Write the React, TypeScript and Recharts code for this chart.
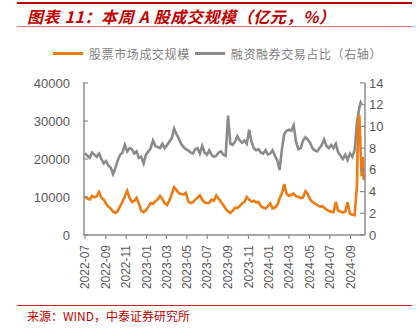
import { LineChart, Line, XAxis, YAxis } from "recharts";

// month labels on the x axis (every two months)
const monthLabels = [
  "2022-07", "2022-09", "2022-11", "2023-01", "2023-03", "2023-05", "2023-07",
  "2023-09", "2023-11", "2024-01", "2024-03", "2024-05", "2024-07", "2024-09",
];

// weekly readings, week 0 = 2022-07-01
const turnoverWeekly = [
  10100, 9600, 9300, 10300, 9900, 10200, 11300, 9800, 9300, 8200,
  7400, 7000, 6100, 5800, 6400, 7600, 8800, 10200, 11600, 9800,
  8700, 9000, 9800, 8200, 6400, 6000, 6500, 7400, 8400, 8200,
  8900, 9400, 10300, 9500, 8400, 7900, 9100, 10800, 12600, 11800,
  11000, 10800, 10700, 11100, 8900, 8400, 8600, 9300, 9800, 10400,
  9300, 8600, 8400, 8500, 9300, 9000, 10400, 9600, 8700, 7900,
  6900, 6200, 5800, 6400, 7200, 7100, 7600, 8300, 8700, 10000,
  9300, 8800, 9000, 8600, 8700, 7600, 7200, 7000, 7600, 8300,
  7000, 7200, 7900, 9600, 11000, 13400, 10800, 10300, 10600, 10900,
  10200, 10100, 9700, 9900, 11500, 10800, 9400, 8700, 8300, 7900,
  7500, 7600, 7200, 6700, 6300, 6100, 6000, 8700, 6400, 6200,
  5900, 6100, 8600, 5600, 5300, 5200, 13000,
];

const marginShareWeekly = [
  7.55, 7.3, 7.1, 7.6, 7.4, 7.2, 7.5, 7.0, 6.6, 6.8,
  6.4, 6.2, 5.6, 6.2, 6.9, 7.4, 7.6, 8.3, 7.7, 8.0,
  7.9, 7.5, 7.7, 7.1, 7.2, 6.6, 7.4, 7.7, 8.0, 8.7,
  8.2, 8.1, 8.0, 8.4, 8.0, 8.3, 8.6, 8.9, 9.8, 9.3,
  8.9, 8.4, 8.1, 7.9, 7.8, 7.6, 7.5, 7.9, 8.0, 7.5,
  8.2, 7.6, 7.4, 7.8, 7.4, 7.2, 7.3, 7.6, 7.7, 7.4,
  7.3, 11.0, 8.4, 8.3, 8.6, 9.1, 8.7, 8.5, 8.7, 8.4,
  9.7, 8.6, 8.0, 7.8, 7.9, 7.6, 7.5, 7.8, 7.4, 7.5,
  7.8, 7.3, 6.9, 6.0, 7.9, 9.3, 9.6, 9.7, 9.6, 10.1,
  8.6, 7.9, 8.0, 8.7, 9.0, 8.8, 8.5, 8.0, 7.8, 7.7,
  8.0, 8.3, 8.8, 8.2, 8.0, 8.3, 8.0, 8.4, 7.6, 7.3,
  7.0, 7.4, 6.9, 7.5, 7.2, 7.8, 10.4,
];

// daily readings for the late-September / October spike (days since 2022-07-01)
const tailDays = [815, 817, 819, 821, 823, 826, 829, 832, 835];
const tailTurnover = [28000, 31000, 31500, 27000, 22000, 15500, 20500, 14500, 16000];
const tailMarginShare = [10.9, 11.3, 11.7, 12.0, 12.2, 12.0, null, null, null];

const leftTicks = [0, 10000, 20000, 30000, 40000];
const rightTicks = [0, 2, 4, 6, 8, 10, 12, 14];

const ORANGE = "#EE7A12";
const GREY = "#8A8A8A";
const RED = "#C00000";
const AXIS = "#8C8C8C";
const LABEL = "#595959";
const NUM_FONT = '"Liberation Sans", Arial, sans-serif';
const CJK_FONT = '"Noto Sans CJK SC", "Noto Sans", sans-serif';

const DAY = 86400000;
const start = Date.UTC(2022, 6, 1);
const monthDay = (label: string) => {
  const [y, m] = label.split("-").map(Number);
  return Math.round((Date.UTC(y, m - 1, 1) - start) / DAY);
};

const data = [
  ...turnoverWeekly.map((v, i) => ({ day: i * 7, turnover: v, margin: marginShareWeekly[i] })),
  ...tailDays.map((d, i) => ({ day: d, turnover: tailTurnover[i], margin: tailMarginShare[i] })),
];
const xTicks = monthLabels.map(monthDay);
const labelByDay: Record<number, string> = {};
monthLabels.forEach((l) => (labelByDay[monthDay(l)] = l));

const LeftTick = (p: any) => (
  <g>
    <line x1={p.x + 13} x2={p.x + 18} y1={p.y} y2={p.y} stroke={AXIS} strokeWidth={1.2} />
    <text x={p.x} y={p.y} dy="0.35em" textAnchor="end" fill={LABEL} fontSize={13} fontFamily={NUM_FONT}>
      {p.payload.value}
    </text>
  </g>
);

const RightTick = (p: any) => (
  <g>
    <line x1={p.x - 4} x2={p.x - 9} y1={p.y} y2={p.y} stroke={AXIS} strokeWidth={1.2} />
    <text x={p.x} y={p.y} dy="0.35em" textAnchor="start" fill={LABEL} fontSize={13} fontFamily={NUM_FONT}>
      {p.payload.value}
    </text>
  </g>
);

const DateTick = (p: any) => (
  <text
    x={p.x}
    y={p.y}
    dy="0.35em"
    textAnchor="end"
    transform={`rotate(-90, ${p.x}, ${p.y})`}
    fill={LABEL}
    fontSize={12}
    fontFamily={NUM_FONT}
  >
    {labelByDay[p.payload.value]}
  </text>
);

const legendItems = [
  { name: "股票市场成交规模", color: ORANGE },
  { name: "融资融券交易占比（右轴）", color: GREY },
];

export default function App() {
  return (
    <div style={{ position: "absolute", left: 0, top: 0, width: 420, height: 332, background: "#fff" }}>
      <div style={{ position: "absolute", left: 17, top: 2, width: 395, height: 2, background: RED }} />
      <div
        style={{
          position: "absolute",
          left: 27,
          top: 4,
          fontFamily: CJK_FONT,
          fontWeight: 700,
          fontStyle: "italic",
          fontSize: 16,
          letterSpacing: 0.6,
          color: RED,
          whiteSpace: "nowrap",
        }}
      >
        图表 11：本周 A 股成交规模（亿元，%）
      </div>
      <div style={{ position: "absolute", left: 17, top: 26, width: 395, height: 1, background: "#E07070" }} />

      <div
        style={{
          position: "absolute",
          left: 53,
          top: 45,
          display: "flex",
          alignItems: "center",
          fontFamily: CJK_FONT,
          whiteSpace: "nowrap",
        }}
      >
        {legendItems.map((it) => (
          <div key={it.name} style={{ display: "flex", alignItems: "center", marginRight: 5 }}>
            <span style={{ display: "inline-block", width: 30, height: 2.5, background: it.color }} />
            <span style={{ marginLeft: 6, fontSize: 12, letterSpacing: 0.6, color: "#7F7F7F" }}>{it.name}</span>
          </div>
        ))}
      </div>

      <div style={{ position: "absolute", left: 0, top: 0 }}>
        <LineChart width={420} height={332} data={data} margin={{ top: 83, right: 0, bottom: 37, left: 0 }}>
          <XAxis
            dataKey="day"
            type="number"
            domain={[-3, 836]}
            ticks={xTicks}
            interval={0}
            height={60}
            tick={<DateTick />}
            tickSize={4}
            tickMargin={6}
            axisLine={{ stroke: AXIS, strokeWidth: 1.5 }}
            tickLine={{ stroke: AXIS, strokeWidth: 1.2 }}
          />
          <YAxis
            yAxisId="left"
            orientation="left"
            width={84}
            domain={[0, 40000]}
            ticks={leftTicks}
            interval={0}
            tickSize={0}
            tickMargin={14}
            tickLine={false}
            tick={<LeftTick />}
            axisLine={{ stroke: AXIS, strokeWidth: 1.5 }}
          />
          <YAxis
            yAxisId="right"
            orientation="right"
            width={55}
            domain={[0, 14]}
            ticks={rightTicks}
            interval={0}
            tickSize={0}
            tickMargin={4}
            tickLine={false}
            tick={<RightTick />}
            axisLine={{ stroke: AXIS, strokeWidth: 1.5 }}
          />
          <Line
            yAxisId="right"
            dataKey="margin"
            stroke={GREY}
            strokeWidth={2.6}
            dot={false}
            isAnimationActive={false}
          />
          <Line
            yAxisId="left"
            dataKey="turnover"
            stroke={ORANGE}
            strokeWidth={2.6}
            dot={false}
            isAnimationActive={false}
          />
        </LineChart>
      </div>

      <div style={{ position: "absolute", left: 17, top: 305, width: 395, height: 1, background: "#D02020" }} />
      <div
        style={{
          position: "absolute",
          left: 27,
          top: 307,
          fontFamily: CJK_FONT,
          fontSize: 12,
          color: RED,
          whiteSpace: "nowrap",
        }}
      >
        来源：WIND，中泰证券研究所
      </div>
    </div>
  );
}
